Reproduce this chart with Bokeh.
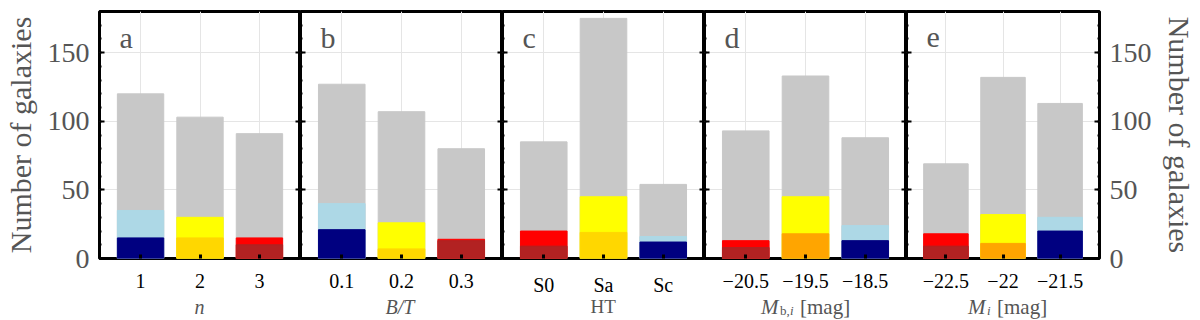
from bokeh.plotting import figure
from bokeh.models import (FactorRange, Range1d, LinearAxis, CategoricalAxis,
                          SingleIntervalTicker, Label, ColumnDataSource)
from bokeh.core.properties import value
from bokeh.layouts import row, column
from bokeh.embed import file_html
from bokeh.resources import INLINE

# ---------------- data ----------------
cats_a = ["1", "2", "3"]
total_a = [120, 103, 91]
mid_a = [35, 30, 15]
low_a = [15, 15, 10]

cats_b = ["0.1", "0.2", "0.3"]
total_b = [127, 107, 80]
mid_b = [40, 26, 14]
low_b = [21, 7, 13]

cats_c = ["S0", "Sa", "Sc"]
total_c = [85, 175, 54]
mid_c = [20, 45, 16]
low_c = [9, 19, 12]

cats_d = ["\u221220.5", "\u221219.5", "\u221218.5"]
total_d = [93, 133, 88]
mid_d = [13, 45, 24]
low_d = [8, 18, 13]

cats_e = ["\u221222.5", "\u221222", "\u221221.5"]
total_e = [69, 132, 113]
mid_e = [18, 32, 30]
low_e = [9, 11, 20]

letters = ["a", "b", "c", "d", "e"]

# ---------------- style ----------------
GRAYBAR = "#c8c8c8"
LBLUE, NAVY = "#add8e6", "#000080"
YEL, GOLD, ORANGE = "#ffff00", "#ffd700", "#ffa500"
RED, DRED = "#ff0000", "#b22222"
TXT = "#555555"
FONT = "Liberation Serif"

mid_cols_ab = [LBLUE, YEL, RED]
low_cols_ab = [NAVY, GOLD, DRED]
mid_cols_c = [RED, YEL, LBLUE]
low_cols_c = [DRED, GOLD, NAVY]
mid_cols_de = [RED, YEL, LBLUE]
low_cols_de = [DRED, ORANGE, NAVY]

FRAME_W = 202
LEFT = 98
RIGHT = 90
TOP = 11
FRAME_H = 247
BOTTOM = 42
H = TOP + FRAME_H + BOTTOM
OVERLAP = 8
STRIP_H = 320 - H + OVERLAP
YMAX = 180
BAR_W = 0.78
TOTAL_W = LEFT + 5 * FRAME_W + RIGHT


def y_axis(with_labels):
    ax = LinearAxis(ticker=SingleIntervalTicker(interval=50, num_minor_ticks=5),
                    axis_line_color=None,
                    major_tick_in=5, major_tick_out=0, major_tick_line_width=2,
                    major_tick_line_color="black",
                    minor_tick_in=2, minor_tick_out=0, minor_tick_line_width=2,
                    minor_tick_line_color="black")
    if with_labels:
        ax.major_label_text_font = FONT
        ax.major_label_text_font_size = "28px"
        ax.major_label_text_color = TXT
        ax.major_label_standoff = 10
        ax.axis_label = "Number of galaxies"
        ax.axis_label_text_font = FONT
        ax.axis_label_text_font_size = "30px"
        ax.axis_label_text_font_style = "normal"
        ax.axis_label_text_color = TXT
        ax.axis_label_standoff = 8
    else:
        ax.major_label_text_font_size = "0px"
        ax.major_label_text_color = None
        ax.major_label_standoff = 0
    return ax


def panel(cats, total, mid, low, mid_cols, low_cols, letter, first=False, last=False):
    w = FRAME_W + (LEFT if first else 0) + (RIGHT if last else 0)
    p = figure(width=w, height=H,
               x_range=FactorRange(factors=cats, range_padding=0.127),
               y_range=Range1d(0, YMAX),
               output_backend="svg", toolbar_location=None,
               x_axis_location=None, y_axis_location=None,
               min_border_left=LEFT if first else 0,
               min_border_right=RIGHT if last else 0,
               min_border_top=TOP, min_border_bottom=BOTTOM,
               outline_line_color="black", outline_line_width=3,
               background_fill_color="white", border_fill_color="white")
    src = ColumnDataSource(dict(x=cats, total=total, mid=mid, low=low,
                                mc=mid_cols, lc=low_cols))
    p.vbar(x="x", top="total", width=BAR_W, color=GRAYBAR, source=src)
    p.vbar(x="x", top="mid", width=BAR_W, color="mc", source=src)
    p.vbar(x="x", top="low", width=BAR_W, color="lc", source=src)

    xa = CategoricalAxis(axis_line_color=None,
                         major_tick_in=4, major_tick_out=0, major_tick_line_width=3,
                         major_tick_line_color="black",
                         major_label_text_font=FONT, major_label_text_font_size="20px",
                         major_label_text_color="black", major_label_standoff=15)
    p.add_layout(xa, "below")
    p.add_layout(y_axis(first), "left")
    p.add_layout(y_axis(last), "right")

    p.add_layout(Label(x=20, x_units="screen", y=161, y_units="data", text=letter,
                       text_font=FONT, text_font_size="30px", text_color=TXT,
                       text_baseline="alphabetic"))
    return p


pa = panel(cats_a, total_a, mid_a, low_a, mid_cols_ab, low_cols_ab, letters[0], first=True)
pb = panel(cats_b, total_b, mid_b, low_b, mid_cols_ab, low_cols_ab, letters[1])
pc = panel(cats_c, total_c, mid_c, low_c, mid_cols_c, low_cols_c, letters[2])
pd = panel(cats_d, total_d, mid_d, low_d, mid_cols_de, low_cols_de, letters[3])
pe = panel(cats_e, total_e, mid_e, low_e, mid_cols_de, low_cols_de, letters[4], last=True)

# ---------------- x-axis titles strip (pixel coordinates, transparent) ----------------
strip = figure(width=TOTAL_W, height=STRIP_H, x_range=Range1d(0, TOTAL_W),
               y_range=Range1d(0, STRIP_H), output_backend="svg", toolbar_location=None,
               x_axis_location=None, y_axis_location=None,
               min_border_left=0, min_border_right=0, min_border_top=0, min_border_bottom=0,
               min_border=0,
               outline_line_color=None, background_fill_color=None,
               border_fill_color=None)
strip.styles = {"margin-top": f"-{OVERLAP}px"}
strip.xgrid.visible = False
strip.ygrid.visible = False

# each title: list of (text, size, style, dy, width)
titles = [
    [("n", 20, "italic", 0, 10)],
    [("B/T", 20, "italic", 0, 32)],
    [("HT", 19, "normal", 0, 26)],
    [("M", 21, "italic", 0, 19), ("b,", 13, "normal", -4, 10),
     ("i", 13, "italic", -4, 10), ("[mag]", 21, "normal", 0, 50)],
    [("M", 21, "italic", 0, 19), ("i", 13, "italic", -4, 10),
     ("[mag]", 21, "normal", 0, 50)],
]
BASE_Y = 14
for i, parts in enumerate(titles):
    cx = LEFT + FRAME_W * i + FRAME_W / 2
    tw = sum(pw for (_, _, _, _, pw) in parts)
    x = cx - tw / 2
    for text, size, style, dy, pw in parts:
        strip.text(x=[x], y=[BASE_Y + dy], text=[text], text_font=value(FONT),
                   text_font_size=value(f"{size}px"), text_font_style=style,
                   text_color=TXT, text_align="left", text_baseline="alphabetic")
        x += pw

layout = column(row(pa, pb, pc, pd, pe, spacing=0), strip, spacing=0)
open("out.html", "w").write(file_html(layout, INLINE))
